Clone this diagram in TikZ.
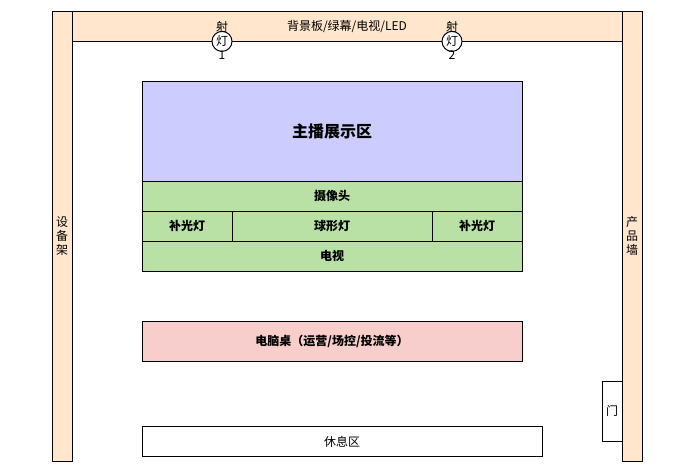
\documentclass[tikz,border=0pt]{standalone}
\usepackage{xcolor}
\usepackage{fontspec}
\setmainfont{Noto Sans CJK SC}
\usetikzlibrary{positioning}
\definecolor{wallcolor}{RGB}{255, 230, 204}
\definecolor{stagecolor}{RGB}{204, 204, 255}
\definecolor{gearcolor}{RGB}{185, 224, 165}
\definecolor{deskcolor}{RGB}{248, 206, 204}
\tikzset{
    room/.style={draw, line width=0.75pt, inner sep=0pt, outer sep=0pt, font=\fontsize{9pt}{10.5pt}\selectfont, align=center},
    wall/.style={room, fill=wallcolor},
    gear/.style={room, fill=gearcolor, font=\fontsize{9pt}{10.5pt}\selectfont\bfseries},
    lamp/.style={draw, line width=0.75pt, circle, fill=white, minimum size=15pt, inner sep=0pt, font=\fontsize{9pt}{10.5pt}\selectfont},
    tag/.style={inner sep=0pt, font=\fontsize{9pt}{10.5pt}\selectfont}
}

\begin{document}
\begin{tikzpicture}[x=0.75pt, y=-0.75pt]
    \useasboundingbox (0, -0.4) rectangle (686, 473.6);

    % Walls
    \node[wall, minimum width=15pt, minimum height=337.5pt] (rack) at (62, 236) {设\\备\\架};
    \node[wall, minimum width=412.5pt, minimum height=22.5pt] (backdrop) at (347, 26) {背景板/绿幕/电视/LED};
    \node[wall, minimum width=15pt, minimum height=337.5pt] (shelf) at (632, 236) {产\\品\\墙};

    % Lamps
    \node[lamp] (lampa) at (222, 41) {灯};
    \node[tag] (lampatop) at (222, 27) {射};
    \node[tag] (lampabot) at (222, 55) {1};
    \node[lamp] (lampb) at (452, 41) {灯};
    \node[tag] (lampbtop) at (452, 27) {射};
    \node[tag] (lampbbot) at (452, 55) {2};

    % Anchor area
    \node[room, fill=stagecolor, minimum width=285pt, minimum height=75pt, font=\fontsize{12pt}{14pt}\selectfont\bfseries] (stage) at (332, 131) {主播展示区};

    % Camera row and lights
    \node[gear, minimum width=285pt, minimum height=22.5pt] (camera) at (332, 196) {摄像头};
    \node[gear, minimum width=67.5pt, minimum height=22.5pt] (filla) at (187, 226) {补光灯};
    \node[gear, minimum width=150pt, minimum height=22.5pt] (ball) at (332, 226) {球形灯};
    \node[gear, minimum width=67.5pt, minimum height=22.5pt] (fillb) at (477, 226) {补光灯};
    \node[gear, minimum width=285pt, minimum height=22.5pt] (tv) at (332, 256) {电视};

    % Desk
    \node[room, fill=deskcolor, minimum width=285pt, minimum height=30pt, font=\fontsize{9pt}{10.5pt}\selectfont\bfseries] (desk) at (332, 341) {电脑桌（运营/场控/投流等）};

    % Rest area and door
    \node[room, minimum width=300pt, minimum height=22.5pt] (rest) at (342, 441) {休息区};
    \node[room, minimum width=15pt, minimum height=45pt] (door) at (612, 411) {门};

\end{tikzpicture}
\end{document}
